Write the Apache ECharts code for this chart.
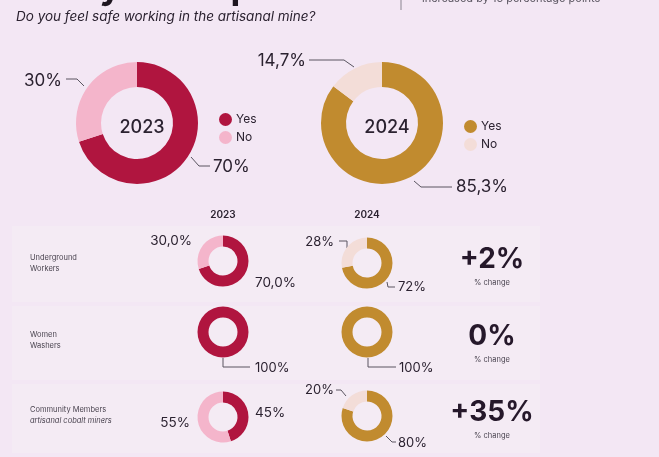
<!DOCTYPE html>
<html>
<head>
<meta charset="utf-8">
<script src="https://cdn.jsdelivr.net/npm/echarts@6/dist/echarts.min.js"></script>
<style>
  html, body { margin: 0; padding: 0; background: #f3e7f4; }
  #chart { width: 659px; height: 457px; }
</style>
</head>
<body>
<div id="chart"></div>
<script>
// ---- data ----
const years = ['2023', '2024'];
const answers = ['Yes', 'No'];
const overallYes = [70, 85.3];
const overallNo = [30, 14.7];
const groupNames = [['Underground', 'Workers'], ['Women', 'Washers'], ['Community Members', 'artisanal cobalt miners']];
const yes2023 = [70, 100, 45];
const no2023 = [30, 0, 55];
const yes2024 = [72, 100, 80];
const no2024 = [28, 0, 20];
const changePts = [2, 0, 35];
const titleText = 'Safety Perception';
const subtitleText = 'Do you feel safe working in the artisanal mine?';
const noteText = 'increased by 15 percentage points';
const changeCaption = '% change';

// ---- styling ----
const FONT = 'Inter, "Noto Sans", sans-serif';
const INK = '#2b2230';
const COL = {
  '2023': ['#b0153f', '#f4b5cb'],
  '2024': ['#c18b2f', '#f3ddd8']
};

function fmt(v, dec) {
  return v.toFixed(dec).replace('.', ',') + '%';
}

// donut definitions: values come from the arrays above, placement is layout only
const donuts = [
  { year: '2023', yes: overallYes[0], no: overallNo[0], center: [137, 123], radius: [36, 61], dec: 0, fs: 17,
    place: [
      { x: 213, y: 167, align: 'left', line: [[191, 157], [199, 166], [210, 166]] },
      { x: 62, y: 81, align: 'right', line: [[84, 86], [77, 79], [66, 79]] }
    ] },
  { year: '2024', yes: overallYes[1], no: overallNo[1], center: [382, 123], radius: [36, 61], dec: 1, fs: 17,
    place: [
      { x: 456, y: 187, align: 'left', line: [[414, 181], [421, 187], [452, 187]] },
      { x: 306, y: 61, align: 'right', line: [[354, 67], [344, 60], [309, 60]] }
    ] },
  { year: '2023', yes: yes2023[0], no: no2023[0], center: [223, 261], radius: [14.5, 25.5], dec: 1, fs: 13.5,
    place: [
      { x: 255, y: 283, align: 'left' },
      { x: 192, y: 241, align: 'right' }
    ] },
  { year: '2024', yes: yes2024[0], no: no2024[0], center: [367, 263], radius: [14.5, 25.5], dec: 0, fs: 13,
    place: [
      { x: 398, y: 287, align: 'left', line: [[387, 282], [388, 287], [395, 287]] },
      { x: 334, y: 242, align: 'right', line: [[347, 248], [347, 241], [339, 241]] }
    ] },
  { year: '2023', yes: yes2023[1], no: no2023[1], center: [223, 332], radius: [14.5, 25.5], dec: 0, fs: 13,
    place: [
      { x: 255, y: 368, align: 'left', line: [[223, 358], [223, 367], [250, 367]] },
      null
    ] },
  { year: '2024', yes: yes2024[1], no: no2024[1], center: [367, 332], radius: [14.5, 25.5], dec: 0, fs: 13,
    place: [
      { x: 399, y: 368, align: 'left', line: [[368, 358], [368, 367], [396, 367]] },
      null
    ] },
  { year: '2023', yes: yes2023[2], no: no2023[2], center: [223, 417], radius: [14.5, 25.5], dec: 0, fs: 13.5,
    place: [
      { x: 255, y: 413, align: 'left' },
      { x: 190, y: 423, align: 'right' }
    ] },
  { year: '2024', yes: yes2024[2], no: no2024[2], center: [367, 416], radius: [14.5, 25.5], dec: 0, fs: 13,
    place: [
      { x: 398, y: 443, align: 'left', line: [[386, 436], [392, 442], [396, 442]] },
      { x: 334, y: 390, align: 'right', line: [[346, 396], [341, 390], [336, 390]] }
    ] }
];

const series = donuts.map(function (d) {
  const vals = [d.yes, d.no];
  return {
    type: 'pie',
    silent: true,
    center: d.center,
    radius: d.radius,
    startAngle: 90,
    clockwise: true,
    avoidLabelOverlap: false,
    animation: false,
    data: answers.map(function (name, i) {
      const p = d.place[i];
      const hasLine = !!(p && p.line);
      return {
        name: name,
        value: vals[i],
        itemStyle: { color: COL[d.year][i] },
        label: { show: !!p && vals[i] > 0 },
        labelLine: { show: hasLine && vals[i] > 0 }
      };
    }),
    label: {
      color: INK,
      fontFamily: FONT,
      fontSize: d.fs,
      formatter: function (p) { return fmt(p.value, d.dec); }
    },
    labelLine: { lineStyle: { color: '#5a5560', width: 1 } },
    labelLayout: function (params) {
      const p = d.place[params.dataIndex];
      if (!p) return {};
      const out = { x: p.x, y: p.y, align: p.align, verticalAlign: 'middle' };
      if (p.line) out.labelLinePoints = p.line;
      return out;
    }
  };
});

// graphic text: headers, row names, change figures
const graphics = [];
// faint row panels
[[226, 76], [306, 74], [384, 69]].forEach(function (r) {
  graphics.push({ type: 'rect', z: -10, silent: true,
    shape: { x: 12, y: r[0], width: 528, height: r[1] },
    style: { fill: '#f4ebf4' } });
});
graphics.push({ type: 'text', left: 6, top: -30, silent: true,
  style: { text: titleText, font: 'bold 36px ' + FONT, fill: '#1e1620' } });
graphics.push({ type: 'line', silent: true, shape: { x1: 401, y1: 0, x2: 401, y2: 10 },
  style: { stroke: '#8a8590', lineWidth: 1 } });
graphics.push({ type: 'text', left: 422, top: -7, silent: true,
  style: { text: noteText, font: '11px ' + FONT, fill: '#5a5560' } });
graphics.push({ type: 'text', left: 16, top: 10, silent: true,
  style: { text: subtitleText, font: 'italic 13.5px ' + FONT, fill: INK } });

const colX = [223, 367];
years.forEach(function (y, i) {
  graphics.push({ type: 'text', silent: true, x: colX[i], y: 215,
    style: { text: y, font: '600 10px ' + FONT, fill: INK, align: 'center', verticalAlign: 'middle' } });
});

const rowY = [263, 340, 415];
groupNames.forEach(function (g, i) {
  graphics.push({ type: 'text', silent: true, x: 30, y: rowY[i] - 5,
    style: { text: g[0], font: '7.5px ' + FONT, fill: '#4a4450', verticalAlign: 'middle' } });
  graphics.push({ type: 'text', silent: true, x: 30, y: rowY[i] + 5.5,
    style: { text: g[1], font: (i === 2 ? 'italic ' : '') + '7.5px ' + FONT, fill: '#4a4450', verticalAlign: 'middle' } });
});

const chgY = [260, 337, 413];
changePts.forEach(function (c, i) {
  graphics.push({ type: 'text', silent: true, x: 492, y: chgY[i],
    style: { text: (c > 0 ? '+' : '') + c + '%', font: 'bold 28px ' + FONT, fill: '#25182a',
      align: 'center', verticalAlign: 'middle' } });
  graphics.push({ type: 'text', silent: true, x: 492, y: chgY[i] + 23,
    style: { text: changeCaption, font: '7.5px ' + FONT, fill: '#4a4450',
      align: 'center', verticalAlign: 'middle' } });
});

function legendFor(year, left, top) {
  return {
    orient: 'vertical', left: left, top: top,
    icon: 'circle', itemWidth: 13, itemHeight: 13, itemGap: 5,
    selectedMode: false,
    textStyle: { fontFamily: FONT, fontSize: 12, color: INK, padding: [0, 0, 0, -1] },
    data: answers.map(function (a, i) {
      return { name: a, itemStyle: { color: COL[year][i] } };
    })
  };
}

const chart = echarts.init(document.getElementById('chart'), null, { renderer: 'canvas' });
chart.setOption({
  backgroundColor: '#f3e7f4',
  animation: false,
  title: [
    { text: years[0], left: 137, top: 123, textAlign: 'center', textVerticalAlign: 'middle',
      textStyle: { fontFamily: FONT, fontSize: 18, fontWeight: 500, color: INK } },
    { text: years[1], left: 382, top: 123, textAlign: 'center', textVerticalAlign: 'middle',
      textStyle: { fontFamily: FONT, fontSize: 18, fontWeight: 500, color: INK } }
  ],
  legend: [legendFor('2023', 214, 108), legendFor('2024', 459, 115)],
  graphic: graphics,
  series: series
});
</script>
</body>
</html>
